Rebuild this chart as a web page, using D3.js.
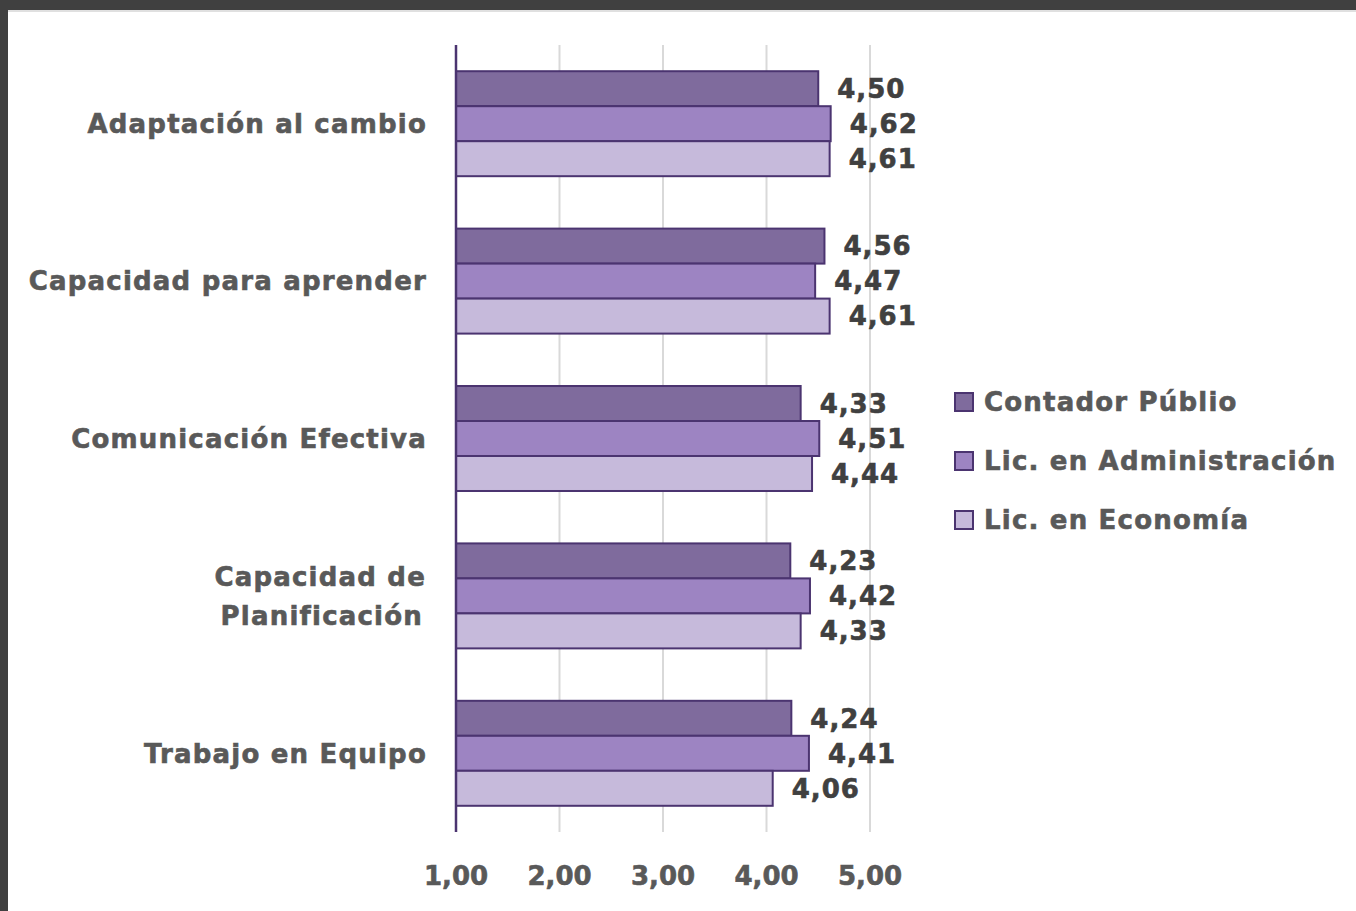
<!DOCTYPE html>
<html>
<head>
<meta charset="utf-8">
<script src="https://cdn.jsdelivr.net/npm/d3@7"></script>
<style>
  body { margin: 0; background: #404040; }
  svg { display: block; }
  text { font-family: "DejaVu Sans", Verdana, sans-serif; font-weight: bold; }
</style>
</head>
<body>
<svg id="chart" width="1356" height="911"></svg>
<script>
var categories = ['Adaptación al cambio', 'Capacidad para aprender', 'Comunicación Efectiva', 'Capacidad de\nPlanificación', 'Trabajo en Equipo'];
var series = ['Contador Públio', 'Lic. en Administración', 'Lic. en Economía'];
var contador = [4.50, 4.56, 4.33, 4.23, 4.24];
var administracion = [4.62, 4.47, 4.51, 4.42, 4.41];
var economia = [4.61, 4.61, 4.44, 4.33, 4.06];
var ticks = [1, 2, 3, 4, 5];

var values = [contador, administracion, economia];
var colors = ['#7f6b9d', '#9d84c2', '#c6badb'];
var fmt = function(v) { return v.toFixed(2).replace('.', ','); };

var svg = d3.select('#chart');

// white page area
svg.append('rect').attr('x', 8).attr('y', 10).attr('width', 1348).attr('height', 901).attr('fill', '#fff');
svg.append('line').attr('x1', 8).attr('x2', 1356).attr('y1', 11).attr('y2', 11).attr('stroke', '#e0e0e0').attr('stroke-width', 2);

var x = d3.scaleLinear().domain([1, 5]).range([456, 870]);
var y = d3.scaleBand().domain(categories).range([45, 832]).paddingInner(0.333).paddingOuter(0.1665);
var yi = d3.scaleBand().domain(d3.range(series.length)).range([0, y.bandwidth()]);

// gridlines
svg.append('g').selectAll('line')
  .data(ticks.slice(1))
  .enter().append('line')
  .attr('x1', function(d) { return x(d); })
  .attr('x2', function(d) { return x(d); })
  .attr('y1', 45).attr('y2', 832)
  .attr('stroke', '#d9d9d9').attr('stroke-width', 2);

// bars
var groups = svg.append('g').selectAll('g')
  .data(categories)
  .enter().append('g')
  .attr('transform', function(d) { return 'translate(0,' + y(d) + ')'; });

groups.selectAll('rect')
  .data(function(d, i) { return values.map(function(s, j) { return { s: j, v: s[i] }; }); })
  .enter().append('rect')
  .attr('x', x(1))
  .attr('y', function(d) { return yi(d.s); })
  .attr('width', function(d) { return x(d.v) - x(1); })
  .attr('height', yi.bandwidth())
  .attr('fill', function(d) { return colors[d.s]; })
  .attr('stroke', '#4b3470').attr('stroke-width', 2);

groups.selectAll('text')
  .data(function(d, i) { return values.map(function(s, j) { return { s: j, v: s[i] }; }); })
  .enter().append('text')
  .attr('x', function(d) { return x(d.v) + 19; })
  .attr('y', function(d) { return yi(d.s) + yi.bandwidth() / 2; })
  .attr('dy', '0.36em')
  .attr('font-size', 26)
  .attr('letter-spacing', 1)
  .attr('fill', '#404040')
  .attr('stroke', '#404040').attr('stroke-width', 0.6)
  .text(function(d) { return fmt(d.v); });

// axis line
svg.append('line')
  .attr('x1', x(1)).attr('x2', x(1)).attr('y1', 45).attr('y2', 832)
  .attr('stroke', '#4b3470').attr('stroke-width', 2.5);

// tick labels
svg.append('g').selectAll('text')
  .data(ticks)
  .enter().append('text')
  .attr('x', function(d) { return x(d); })
  .attr('y', 876).attr('dy', '0.36em')
  .attr('text-anchor', 'middle')
  .attr('font-size', 26)
  .attr('fill', '#595959')
  .attr('stroke', '#595959').attr('stroke-width', 0.6)
  .text(fmt);

// category labels
var cat = svg.append('g').selectAll('text')
  .data(categories)
  .enter().append('text')
  .attr('text-anchor', 'end')
  .attr('font-size', 26)
  .attr('letter-spacing', 1.2)
  .attr('fill', '#595959')
  .attr('stroke', '#595959').attr('stroke-width', 0.6)
  .attr('y', function(d) { return y(d) + y.bandwidth() / 2; });

cat.each(function(d) {
  var lines = d.split('\n');
  var t = d3.select(this);
  lines.forEach(function(l, k) {
    t.append('tspan')
      .attr('x', lines.length > 1 ? (k === 0 ? 426 : 423) : 427)
      .attr('dy', k === 0 ? (0.36 - (lines.length - 1) * 0.75) + 'em' : '1.5em')
      .text(l);
  });
});

// legend
var leg = svg.append('g').selectAll('g')
  .data(series)
  .enter().append('g')
  .attr('transform', function(d, i) { return 'translate(955,' + (402 + i * 59) + ')'; });

leg.append('rect')
  .attr('x', 0).attr('y', -9).attr('width', 18).attr('height', 18)
  .attr('fill', function(d, i) { return colors[i]; })
  .attr('stroke', '#4b3470').attr('stroke-width', 2);

leg.append('text')
  .attr('x', 29).attr('dy', '0.36em')
  .attr('font-size', 26)
  .attr('letter-spacing', 1.2)
  .attr('fill', '#595959')
  .attr('stroke', '#595959').attr('stroke-width', 0.6)
  .text(function(d) { return d; });
</script>
</body>
</html>
